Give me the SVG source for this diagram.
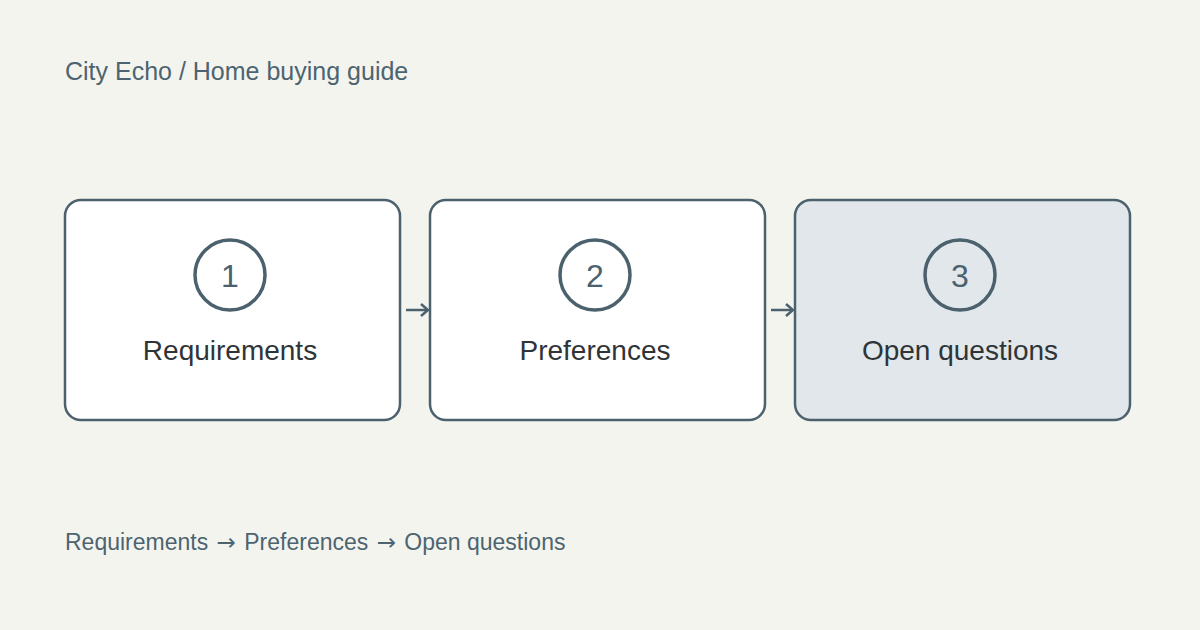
<svg xmlns="http://www.w3.org/2000/svg" width="1200" height="630" viewBox="0 0 1200 630">
<defs>
<style>
.box{fill:#ffffff;stroke:#4b616d;stroke-width:2.5}
.box.hl{fill:#e1e7ea}
.ring{fill:none;stroke:#4b616d;stroke-width:3.5}
.num{font-family:"Liberation Sans",Arial,sans-serif;font-size:32px;fill:#4b616d;text-anchor:middle}
.lbl{font-family:"Liberation Sans",Arial,sans-serif;font-size:28px;fill:#2f3438;text-anchor:middle}
.cap{font-family:"Liberation Sans",Arial,sans-serif;fill:#4d6470}
.ar{font-family:"DejaVu Sans",sans-serif}
.conn{stroke:#4b616d;stroke-width:2.5;fill:none}
</style>
<marker id="ah" viewBox="0 0 10 14" refX="9" refY="7" markerWidth="10" markerHeight="14" markerUnits="userSpaceOnUse" orient="auto">
<path d="M2,1 L9,7 L2,13" fill="none" stroke="#4b616d" stroke-width="2.5"/>
</marker>
</defs>
<rect width="1200" height="630" fill="#f4f4ef"/>
<text class="cap" x="65" y="80" font-size="25">City Echo / Home buying guide</text>
<g id="node1">
<rect class="box" x="65" y="200" width="335" height="220" rx="16"/>
<circle class="ring" cx="230" cy="275" r="35"/>
<text class="num" x="230" y="287">1</text>
<text class="lbl" x="230" y="360">Requirements</text>
</g>
<g id="node2">
<rect class="box" x="430" y="200" width="335" height="220" rx="16"/>
<circle class="ring" cx="595" cy="275" r="35"/>
<text class="num" x="595" y="287">2</text>
<text class="lbl" x="595" y="360">Preferences</text>
</g>
<g id="node3">
<rect class="box hl" x="795" y="200" width="335" height="220" rx="16"/>
<circle class="ring" cx="960" cy="275" r="35"/>
<text class="num" x="960" y="287">3</text>
<text class="lbl" x="960" y="360">Open questions</text>
</g>
<g id="connectors">
<line class="conn" x1="406" y1="310" x2="428" y2="310" marker-end="url(#ah)"/>
<line class="conn" x1="771" y1="310" x2="793" y2="310" marker-end="url(#ah)"/>
</g>
<text class="cap" x="65" y="550" font-size="23">Requirements <tspan class="ar" dx="2">→</tspan><tspan dx="2"> Preferences </tspan><tspan class="ar" dx="2">→</tspan><tspan dx="2"> Open questions</tspan></text>
</svg>
